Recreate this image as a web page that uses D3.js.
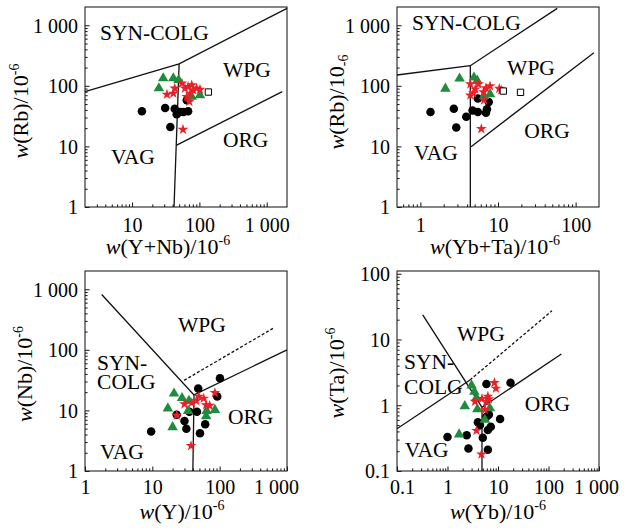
<!DOCTYPE html>
<html><head><meta charset="utf-8">
<script src="https://cdn.jsdelivr.net/npm/d3@7"></script>
<style>
body{margin:0;background:#fff;}
svg text{font-family:"Liberation Serif","Times New Roman",serif;fill:#000;}
</style></head><body>
<svg id="c" width="624" height="528"></svg>
<script>
// ---------- DATA ----------
// Panel 1: Rb vs (Y+Nb)
const p1Circles   = [[14,38],[31,43],[43,42],[46,34],[58,37],[68,38],[52,37],[37,21],[65,58]];
const p1Triangles = [[29,133],[41,133],[49,125],[25,91],[102,70],[77,66]];
const p1Stars     = [[33,72],[41,75],[43,91],[55,110],[61,91],[68,97],[81,85],[77,103],[91,91],[102,87],[73,75],[65,66],[71,55],[57,19]];
const p1Squares   = [[136,79]];
const p1Lines     = [[[2,80],[50,230],[2000,1900]], [[50,230],[42,1]], [[46,10.5],[1700,80]]];
const p1Dashed    = [];
const p1Labels    = [["SYN-COLG",3.34,570],["WPG",224,140],["ORG",224,9.8],["VAG",4.87,5.1]];

// Panel 2: Rb vs (Yb+Ta)
const p2Circles   = [[1.35,37],[2.7,42],[2.9,20.5],[3.9,31],[4.7,39],[5.5,37],[7.0,36],[7.2,41],[7.6,54],[5.5,62]];
const p2Triangles = [[2.1,90],[3.2,132],[4.9,137],[5.4,122],[7.9,73],[6.6,68]];
const p2Stars     = [[4.4,107],[4.4,70],[5.1,88],[5.6,107],[6.5,79],[7.0,92],[7.9,99],[10.4,90],[11,85],[6.6,58],[6.1,19.5],[4.8,76]];
const p2Squares   = [[11.7,82],[19.5,78]];
const p2Lines     = [[[0.5,151],[4.4,215],[58,1900]], [[4.4,215],[4.4,1]], [[4.5,9.9],[172,352]]];
const p2Dashed    = [];
const p2Labels    = [["SYN-COLG",0.78,833],["WPG",13.1,151],["ORG",21.8,13.8],["VAG",0.83,5.97]];

// Panel 3: Nb vs Y
const p3Circles   = [[9.6,4.5],[48,23],[101,34],[35.5,9.5],[46,9.5],[30,6.7],[61,5.9],[32,5],[51,4.2],[92,17],[23,8.5]];
const p3Triangles = [[21,19],[27.6,16],[35,14.4],[17,10.8],[20,5.3],[34,9.8],[64,9.8],[85,10.2],[63,8]];
const p3Stars     = [[23,8.3],[30,12.7],[38.5,13.3],[49,17],[58,15.8],[63,12.3],[71,12],[85,19.5],[37.6,2.6],[45,14.4]];
const p3Squares   = [];
const p3Lines     = [[[1.77,820],[41.6,18],[40,1]], [[41.6,18],[1000,100]]];
const p3Dashed    = [[[29.6,31.3],[628,228]]];
const p3Labels    = [["WPG",24.1,199],["SYN-",1.51,46.7],["COLG",1.51,22.7],["ORG",133,5.98],["VAG",1.67,1.58]];

// Panel 4: Ta vs Yb
const p4Circles   = [[1.0,0.33],[2.4,0.35],[2.6,0.22],[4.4,0.5],[5.0,0.32],[5.9,0.67],[6.3,0.42],[6.3,0.21],[5.9,2.1],[11,0.62],[17.7,2.2],[4.0,0.55],[7.2,0.47],[6.6,0.72]];
const p4Triangles = [[3.0,2.0],[3.4,1.6],[3.75,1.3],[2.2,0.97],[3.9,0.87],[5.5,0.6],[1.7,0.36],[6.9,0.9]];
const p4Stars     = [[8.5,2.2],[9.1,1.8],[3.5,1.14],[4.8,1.26],[6.3,1.36],[5.5,0.86],[3.75,0.41],[4.7,0.18],[5.8,1.12],[6.6,1.24]];
const p4Squares   = [];
const p4Lines     = [[[0.323,23.7],[4.82,0.93],[4.82,0.1]], [[4.82,0.93],[180,6]], [[0.1,0.44],[2.79,2.42]]];
const p4Dashed    = [[[2.79,2.42],[117,27.3]]];
const p4Labels    = [["WPG",1.54,9.55],["SYN-",0.138,3.55],["COLG",0.138,1.48],["ORG",33.8,0.825],["VAG",0.142,0.163]];

// tick values and axis titles
const p1XTicks = [10,100,1000],        p1YTicks = [1,10,100,1000];
const p2XTicks = [1,10,100],           p2YTicks = [1,10,100,1000];
const p3XTicks = [1,10,100,1000],      p3YTicks = [1,10,100,1000];
const p4XTicks = [0.1,1,10,100,1000],  p4YTicks = [0.1,1,10,100];
const p1XTitle = "(Y+Nb)/10",  p1YTitle = "(Rb)/10";
const p2XTitle = "(Yb+Ta)/10", p2YTitle = "(Rb)/10";
const p3XTitle = "(Y)/10",     p3YTitle = "(Nb)/10";
const p4XTitle = "(Yb)/10",    p4YTitle = "(Ta)/10";

// ---------- LAYOUT ----------
const panels = [
  {box:[85,287,7,207],   xd:[2,2000],  yd:[1,2000], xt:p1XTicks, yt:p1YTicks, c:p1Circles, t:p1Triangles, s:p1Stars, q:p1Squares, L:p1Lines, D:p1Dashed, lab:p1Labels,
   xTitle:p1XTitle, yTitle:p1YTitle, xtPos:[168,254], ytPos:[28,111], ySub:false, xlBase:232, xDx:{}},
  {box:[397,599,7,207],  xd:[0.5,200], yd:[1,2000], xt:p2XTicks, yt:p2YTicks, c:p2Circles, t:p2Triangles, s:p2Stars, q:p2Squares, L:p2Lines, D:p2Dashed, lab:p2Labels,
   xTitle:p2XTitle, yTitle:p2YTitle, xtPos:[495,254], ytPos:[344,102], ySub:true, xlBase:232, xDx:{}},
  {box:[85,287,271,471], xd:[1,1000],  yd:[1,2000], xt:p3XTicks, yt:p3YTicks, c:p3Circles, t:p3Triangles, s:p3Stars, q:p3Squares, L:p3Lines, D:p3Dashed, lab:p3Labels,
   xTitle:p3XTitle, yTitle:p3YTitle, xtPos:[182,519], ytPos:[32,374], ySub:false, xlBase:494, xDx:{1000:-11}},
  {box:[397,599,271,471],xd:[0.1,1000], yd:[0.1,110], xt:p4XTicks, yt:p4YTicks, c:p4Circles, t:p4Triangles, s:p4Stars, q:p4Squares, L:p4Lines, D:p4Dashed, lab:p4Labels,
   xTitle:p4XTitle, yTitle:p4YTitle, xtPos:[498,519], ytPos:[344,373], ySub:false, xlBase:494, xDx:{1000:-3,0.1:5}}
];

const RED = "#ea2028", GREEN = "#1e8c3c";
const svg = d3.select("#c");
const fmt = v => v === 1000 ? "1 000" : (v < 1 ? v.toFixed(1) : String(v));
const isMajor = v => Math.abs(Math.log10(v) - Math.round(Math.log10(v))) < 1e-9;

panels.forEach(p => {
  const [l, r, t, b] = p.box;
  const x = d3.scaleLog().domain(p.xd).range([l, r]);
  const y = d3.scaleLog().domain(p.yd).range([b, t]);
  const g = svg.append("g");

  // minor ticks (inward)
  const minorX = x.ticks().filter(v => !isMajor(v) && v > p.xd[0] && v < p.xd[1]);
  const minorY = y.ticks().filter(v => !isMajor(v) && v > p.yd[0] && v < p.yd[1]);
  g.append("g").attr("transform", `translate(0,${b})`)
    .call(d3.axisBottom(x).tickValues(minorX).tickSize(-2.6).tickFormat(""))
    .call(a => a.select(".domain").remove());
  g.append("g").attr("transform", `translate(${l},0)`)
    .call(d3.axisLeft(y).tickValues(minorY).tickSize(-2.6).tickFormat(""))
    .call(a => a.select(".domain").remove());

  // major ticks + labels
  const ax = g.append("g").attr("transform", `translate(0,${b})`)
    .call(d3.axisBottom(x).tickValues(p.xt).tickSize(-4.5).tickPadding(0).tickFormat(fmt))
    .call(a => a.select(".domain").remove());
  ax.selectAll("text").attr("font-size", 20).attr("font-family", null)
    .attr("y", p.xlBase - b).attr("dy", null)
    .attr("dx", d => p.xDx[d] || 0);
  const ay = g.append("g").attr("transform", `translate(${l},0)`)
    .call(d3.axisLeft(y).tickValues(p.yt).tickSize(-4.5).tickPadding(7).tickFormat(fmt))
    .call(a => a.select(".domain").remove());
  ay.selectAll("text").attr("font-size", 20).attr("font-family", null).attr("dy", "0.34em");
  g.selectAll(".tick line").attr("stroke", "#111").attr("stroke-width", 1);

  // frame
  g.append("rect").attr("x", l).attr("y", t).attr("width", r - l).attr("height", b - t)
    .attr("fill", "none").attr("stroke", "#222").attr("stroke-width", 1.1);

  // boundary lines
  const line = d3.line().x(d => x(d[0])).y(d => y(d[1]));
  p.L.forEach(seg => g.append("path").attr("d", line(seg)).attr("fill", "none")
    .attr("stroke", "#111").attr("stroke-width", 1.3));
  p.D.forEach(seg => g.append("path").attr("d", line(seg)).attr("fill", "none")
    .attr("stroke", "#111").attr("stroke-width", 1.3).attr("stroke-dasharray", "3,2"));

  // region labels
  p.lab.forEach(([txt, vx, vy]) => g.append("text").attr("x", x(vx)).attr("y", y(vy))
    .attr("font-size", 21.5).text(txt));

  // markers
  const pos = d => `translate(${x(d[0])},${y(d[1])})`;
  g.selectAll(".circ").data(p.c).join("path").attr("class", "circ")
    .attr("d", d3.symbol().type(d3.symbolCircle).size(57)).attr("transform", pos).attr("fill", "#000");
  g.selectAll(".tri").data(p.t).join("path").attr("class", "tri")
    .attr("d", d3.symbol().type(d3.symbolTriangle).size(48)).attr("transform", pos).attr("fill", GREEN);
  g.selectAll(".star").data(p.s).join("path").attr("class", "star")
    .attr("d", d3.symbol().type(d3.symbolStar).size(36)).attr("transform", pos).attr("fill", RED);
  g.selectAll(".sq").data(p.q).join("path").attr("class", "sq")
    .attr("d", d3.symbol().type(d3.symbolSquare).size(40)).attr("transform", pos)
    .attr("fill", "#fff").attr("stroke", "#000").attr("stroke-width", 1);

  // axis titles
  const xt = g.append("text").attr("x", p.xtPos[0]).attr("y", p.xtPos[1])
    .attr("text-anchor", "middle").attr("font-size", 22);
  xt.append("tspan").attr("font-style", "italic").text("w");
  xt.append("tspan").text(p.xTitle);
  xt.append("tspan").attr("font-size", 14).attr("dy", -9).text("-6");

  const yt = g.append("text").attr("transform", `translate(${p.ytPos[0]},${p.ytPos[1]}) rotate(-90)`)
    .attr("text-anchor", "middle").attr("font-size", 22);
  yt.append("tspan").attr("font-style", "italic").text("w");
  yt.append("tspan").text(p.yTitle);
  yt.append("tspan").attr("font-size", 14).attr("dy", p.ySub ? 4 : -9).text("-6");
});
</script>
</body></html>
